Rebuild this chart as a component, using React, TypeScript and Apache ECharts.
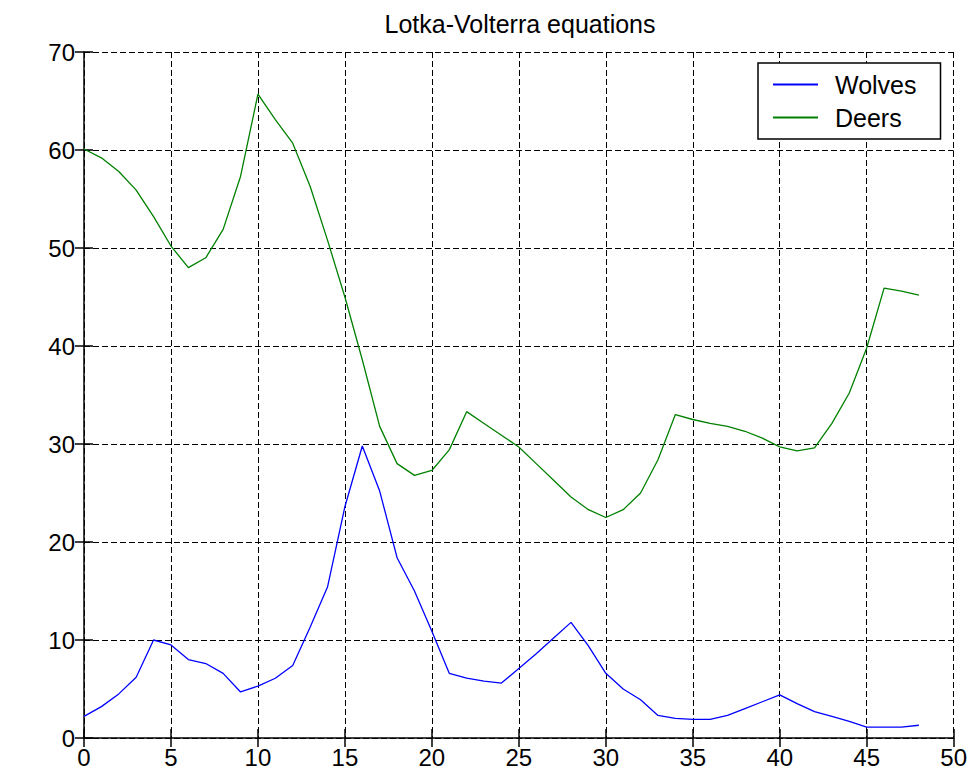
import React, { useEffect, useRef } from "react";
import * as echarts from "echarts";

// Time steps (0..48) and the two populations of the Lotka-Volterra model
const timeSteps: number[] = [
  0, 1, 2, 3, 4, 5, 6, 7, 8, 9, 10, 11, 12, 13, 14, 15, 16, 17, 18, 19, 20, 21, 22, 23, 24,
  25, 26, 27, 28, 29, 30, 31, 32, 33, 34, 35, 36, 37, 38, 39, 40, 41, 42, 43, 44, 45, 46, 47, 48,
];

const wolves: number[] = [
  2.2, 3.2, 4.5, 6.2, 10.0, 9.5, 8.0, 7.6, 6.6, 4.7, 5.3, 6.1, 7.4, 11.3, 15.4, 23.6, 29.8,
  25.2, 18.4, 15.0, 10.9, 6.6, 6.1, 5.8, 5.6, 7.1, 8.6, 10.2, 11.8, 9.4, 6.6, 5.0, 3.9, 2.3,
  2.0, 1.9, 1.9, 2.3, 3.0, 3.7, 4.4, 3.5, 2.7, 2.2, 1.7, 1.1, 1.1, 1.1, 1.3,
];

const deers: number[] = [
  60.1, 59.2, 57.8, 55.9, 53.2, 50.2, 48.0, 49.0, 51.9, 57.3, 65.7, 63.1, 60.7, 56.3, 50.8,
  45.0, 38.6, 31.8, 28.0, 26.8, 27.3, 29.4, 33.3, 32.1, 30.9, 29.7, 28.0, 26.3, 24.6, 23.3,
  22.5, 23.3, 25.0, 28.4, 33.0, 32.5, 32.1, 31.8, 31.3, 30.6, 29.7, 29.3, 29.6, 32.1, 35.2,
  39.8, 45.9, 45.6, 45.2,
];

const xTicks = { min: 0, max: 50, interval: 5 };
const yTicks = { min: 0, max: 70, interval: 10 };

const FONT = "'Liberation Sans', Arial, Helvetica, sans-serif";

const dashed = { color: "#000", width: 1, type: [6, 3] as number[] };

export default function App() {
  const ref = useRef<HTMLDivElement>(null);

  useEffect(() => {
    if (!ref.current) return;
    const chart = echarts.init(ref.current, null, { renderer: "svg" });

    const pair = (ys: number[]) => timeSteps.map((t, i) => [t, ys[i]]);

    chart.setOption({
      animation: false,
      backgroundColor: "#fff",
      textStyle: { fontFamily: FONT, color: "#000" },
      title: {
        text: "Lotka-Volterra equations",
        left: 515,
        textAlign: "center",
        top: 6,
        textStyle: { fontFamily: FONT, fontSize: 25, fontWeight: "normal", color: "#000" },
      },
      legend: {
        orient: "vertical",
        left: 758,
        top: 63,
        padding: [9, 24, 9, 15],
        itemGap: 8,
        itemWidth: 45,
        itemHeight: 2,
        icon: "rect",
        backgroundColor: "#fff",
        borderColor: "#000",
        borderWidth: 1.5,
        borderRadius: 0,
        textStyle: {
          fontFamily: FONT,
          fontSize: 25,
          lineHeight: 25,
          color: "#000",
          padding: [0, 0, 0, 12],
        },
        data: ["Wolves", "Deers"],
      },
      grid: { left: 84, right: 16, top: 52, bottom: 38, containLabel: false },
      xAxis: [
        {
          type: "value",
          position: "bottom",
          ...xTicks,
          axisLine: { show: true, lineStyle: { color: "#000", width: 1.5 } },
          axisTick: { show: true, inside: true, length: 9, lineStyle: { color: "#000", width: 1.5 } },
          axisLabel: { fontFamily: FONT, fontSize: 24, color: "#000", margin: 7 },
          splitLine: { show: true, lineStyle: dashed },
        },
        {
          type: "value",
          position: "top",
          ...xTicks,
          axisLine: { show: false },
          axisTick: { show: true, inside: true, length: 9, lineStyle: { color: "#000", width: 1.5 } },
          axisLabel: { show: false },
          splitLine: { show: false },
        },
      ],
      yAxis: [
        {
          type: "value",
          position: "left",
          ...yTicks,
          axisLine: { show: true, lineStyle: { color: "#000", width: 1.5 } },
          axisTick: { show: true, inside: true, length: 9, lineStyle: { color: "#000", width: 1.5 } },
          axisLabel: { fontFamily: FONT, fontSize: 24, color: "#000", margin: 9 },
          splitLine: { show: true, lineStyle: dashed },
        },
        {
          type: "value",
          position: "right",
          ...yTicks,
          axisLine: { show: false },
          axisTick: { show: true, inside: true, length: 9, lineStyle: { color: "#000", width: 1.5 } },
          axisLabel: { show: false },
          splitLine: { show: false },
        },
      ],
      series: [
        {
          name: "Wolves",
          type: "line",
          xAxisIndex: 0,
          yAxisIndex: 0,
          data: pair(wolves),
          showSymbol: false,
          symbol: "none",
          lineStyle: { color: "#0000ff", width: 1.3 },
          itemStyle: { color: "#0000ff" },
          z: 3,
        },
        {
          name: "Deers",
          type: "line",
          xAxisIndex: 0,
          yAxisIndex: 0,
          data: pair(deers),
          showSymbol: false,
          symbol: "none",
          lineStyle: { color: "#008000", width: 1.3 },
          itemStyle: { color: "#008000" },
          z: 3,
        },
      ],
    });

    return () => chart.dispose();
  }, []);

  return (
    <div
      ref={ref}
      style={{ position: "absolute", left: 0, top: 0, width: 970, height: 776, background: "#fff" }}
    />
  );
}
